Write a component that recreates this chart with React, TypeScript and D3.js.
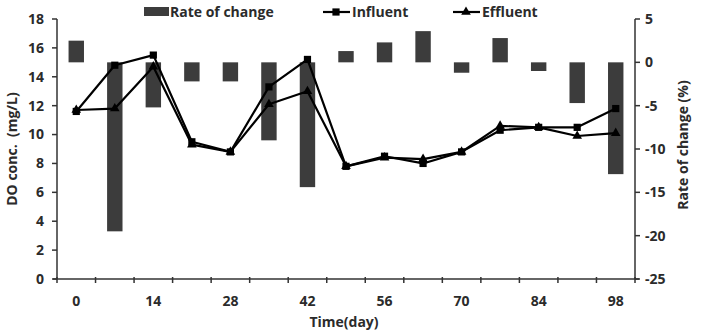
import * as React from 'react';
import * as d3 from 'd3';

// sampling days (every 7 days)
const DAYS = [0, 7, 14, 21, 28, 35, 42, 49, 56, 63, 70, 77, 84, 91, 98];
const DAY_LABELS = [0, 14, 28, 42, 56, 70, 84, 98];

// DO concentration (mg/L)
const INFLUENT = [11.6, 14.8, 15.5, 9.5, 8.8, 13.3, 15.2, 7.8, 8.5, 8.0, 8.8, 10.3, 10.5, 10.5, 11.8];
const EFFLUENT = [11.7, 11.8, 14.7, 9.3, 8.8, 12.1, 13.0, 7.8, 8.4, 8.3, 8.8, 10.6, 10.5, 9.9, 10.1];

// rate of change (%)
const RATE = [2.5, -19.5, -5.2, -2.2, -2.2, -9.0, -14.4, 1.3, 2.3, 3.6, -1.2, 2.8, -1.0, -4.7, -12.9];

const LEFT_TICKS = [0, 2, 4, 6, 8, 10, 12, 14, 16, 18];
const RIGHT_TICKS = [5, 0, -5, -10, -15, -20, -25];

const W = 701;
const H = 332;
const MARGINS = { top: 19, left: 57, bottom: 53, right: 66 };
const FONT = '"Open Sans", Lato, sans-serif';
const AXIS_COLOR = '#333';
const BAR_COLOR = '#3c3c3c';

export default function App() {
    const x0 = MARGINS.left;
    const x1 = W - MARGINS.right;
    const yTop = MARGINS.top;
    const yBottom = H - MARGINS.bottom;

    const xScale = d3.scaleBand<number>().domain(DAYS).range([x0, x1]).padding(0);
    const yLeft = d3.scaleLinear().domain([0, 18]).range([yBottom, yTop]);
    const yRight = d3.scaleLinear().domain([-25, 5]).range([yBottom, yTop]);

    const cx = (d: number) => (xScale(d) as number) + xScale.bandwidth() / 2;
    const barW = xScale.bandwidth() * 0.4;

    const lineFn = (vals: number[]) =>
        d3.line<number>()
            .x((_, i) => cx(DAYS[i]))
            .y((v) => yLeft(v))(vals) as string;

    const square = d3.symbol().type(d3.symbolSquare).size(52)() as string;
    const triangle = d3.symbol().type(d3.symbolTriangle).size(40)() as string;

    // tick marks on the category axis sit between categories
    const xTickPos = DAYS.map((d) => xScale(d) as number).concat([x1]);

    return (
        <svg width={W} height={H} style={{ position: 'absolute', left: 0, top: 0, background: '#fff' }}
            fontFamily={FONT} fontWeight="bold">
            <rect x={0} y={0} width={W} height={H} fill="#fff" />

            {/* rate of change bars */}
            <g className="bars">
                {RATE.map((v, i) => (
                    <rect key={i}
                        x={cx(DAYS[i]) - barW / 2}
                        y={yRight(Math.max(0, v))}
                        width={barW}
                        height={Math.abs(yRight(v) - yRight(0))}
                        fill={BAR_COLOR} />
                ))}
            </g>

            {/* axes */}
            <g className="axis" stroke={AXIS_COLOR} strokeWidth={1.5}>
                <line x1={x0} x2={x0} y1={yTop} y2={yBottom} />
                <line x1={x1} x2={x1} y1={yTop} y2={yBottom} />
                <line x1={x0 - 4} x2={x1 + 4} y1={yBottom} y2={yBottom} />
                {LEFT_TICKS.map((t) => (
                    <line key={'l' + t} x1={x0 - 5} x2={x0} y1={yLeft(t)} y2={yLeft(t)} />
                ))}
                {RIGHT_TICKS.map((t) => (
                    <line key={'r' + t} x1={x1} x2={x1 + 5} y1={yRight(t)} y2={yRight(t)} />
                ))}
                {xTickPos.map((p, i) => (
                    <line key={'x' + i} x1={p} x2={p} y1={yBottom - 2} y2={yBottom + 4} />
                ))}
            </g>

            <g fontSize={14} fill="#2b2b2b">
                {LEFT_TICKS.map((t) => (
                    <text key={'lt' + t} x={x0 - 13} y={yLeft(t)} dy="0.35em" textAnchor="end">{t}</text>
                ))}
                {RIGHT_TICKS.map((t) => (
                    <text key={'rt' + t} x={x1 + 10} y={yRight(t)} dy="0.35em" textAnchor="start">{t}</text>
                ))}
                {DAY_LABELS.map((d) => (
                    <text key={'xt' + d} x={cx(d)} y={yBottom + 22} dy="0.35em" textAnchor="middle">{d}</text>
                ))}
            </g>

            {/* axis titles */}
            <text x={344} y={327} fontSize={14} textAnchor="middle" fill="#2b2b2b">Time(day)</text>
            <text transform={`translate(17,${(yTop + yBottom) / 2}) rotate(-90)`} fontSize={14}
                textAnchor="middle" fill="#2b2b2b" style={{ whiteSpace: 'pre' }}>DO conc.  (mg/L)</text>
            <text transform={`translate(688,${(yTop + yBottom) / 2 - 4}) rotate(-90)`} fontSize={14}
                textAnchor="middle" fill="#2b2b2b">Rate of change (%)</text>

            {/* series lines */}
            <g fill="none" stroke="#000" strokeWidth={2.2} strokeLinejoin="round">
                <path d={lineFn(INFLUENT)} />
                <path d={lineFn(EFFLUENT)} />
            </g>
            <g fill="#000">
                {INFLUENT.map((v, i) => (
                    <path key={'s' + i} d={square} transform={`translate(${cx(DAYS[i])},${yLeft(v)})`} />
                ))}
                {EFFLUENT.map((v, i) => (
                    <path key={'t' + i} d={triangle} transform={`translate(${cx(DAYS[i])},${yLeft(v)})`} />
                ))}
            </g>

            {/* legend */}
            <g fontSize={14} fill="#2b2b2b">
                <rect x={144} y={7} width={25} height={9} fill={BAR_COLOR} />
                <text x={170} y={12} dy="0.35em">Rate of change</text>

                <line x1={323} x2={350} y1={12} y2={12} stroke="#000" strokeWidth={2.2} />
                <path d={square} transform="translate(336,12)" fill="#000" />
                <text x={352} y={12} dy="0.35em">Influent</text>

                <line x1={453} x2={480} y1={12} y2={12} stroke="#000" strokeWidth={2.2} />
                <path d={triangle} transform="translate(466,12)" fill="#000" />
                <text x={482} y={12} dy="0.35em">Effluent</text>
            </g>
        </svg>
    );
}
